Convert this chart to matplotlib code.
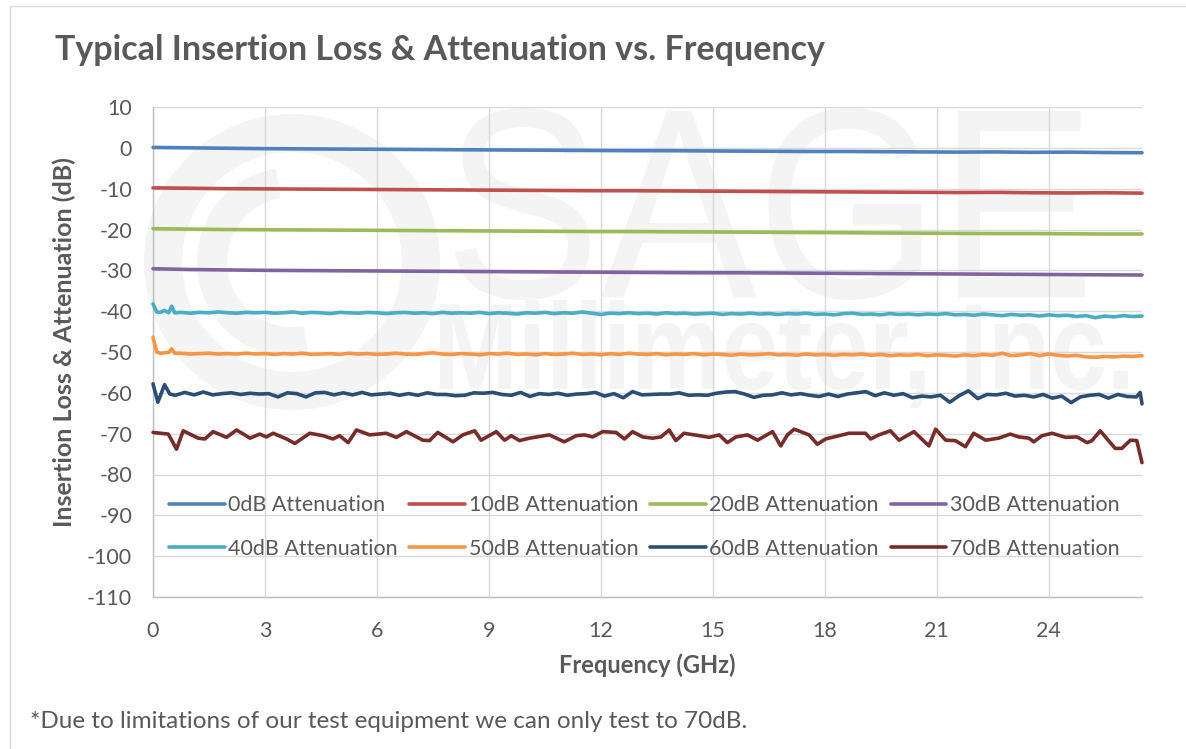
import numpy as np
import matplotlib
matplotlib.use("Agg")
import matplotlib.pyplot as plt
from matplotlib.textpath import TextPath
from matplotlib.patches import PathPatch, Wedge
from matplotlib.font_manager import FontProperties
from matplotlib.transforms import Affine2D, IdentityTransform
from matplotlib.lines import Line2D

plt.rcParams['font.family'] = ['Lato', 'DejaVu Sans']
plt.rcParams['axes.unicode_minus'] = False

# ---------------- data ----------------
title = "Typical Insertion Loss & Attenuation vs. Frequency"
xlabel = "Frequency (GHz)"
ylabel = "Insertion Loss & Attenuation (dB)"
footnote = "*Due to limitations of our test equipment we can only test to 70dB."
x_ticks = [0, 3, 6, 9, 12, 15, 18, 21, 24]
y_ticks = [10, 0, -10, -20, -30, -40, -50, -60, -70, -80, -90, -100, -110]

series_names = ["0dB Attenuation", "10dB Attenuation", "20dB Attenuation", "30dB Attenuation",
                "40dB Attenuation", "50dB Attenuation", "60dB Attenuation", "70dB Attenuation"]
series_colors = ["#4F81BD", "#C0504D", "#9BBB59", "#8064A2",
                 "#4BACC6", "#F79646", "#2C4D75", "#772C2A"]

# smooth series (sampled ~1 GHz from 0 to 26.5 GHz)
att_0 = [0.1, 0.0, -0.1, -0.2, -0.25, -0.3, -0.35, -0.4, -0.45, -0.5,
         -0.55, -0.6, -0.65, -0.7, -0.7, -0.75, -0.8, -0.85, -0.9, -0.9,
         -0.95, -1.0, -1.05, -1.0, -1.1, -1.05, -1.15, -1.2]
att_10 = [-9.8, -9.9, -10.0, -10.05, -10.1, -10.15, -10.2, -10.25, -10.3, -10.35,
          -10.4, -10.45, -10.5, -10.5, -10.55, -10.6, -10.65, -10.7, -10.75, -10.8,
          -10.85, -10.9, -10.95, -10.9, -11.0, -11.05, -11.0, -11.1]
att_20 = [-19.8, -19.9, -20.0, -20.05, -20.1, -20.15, -20.2, -20.25, -20.3, -20.35,
          -20.4, -20.45, -20.5, -20.5, -20.55, -20.6, -20.65, -20.7, -20.75, -20.8,
          -20.85, -20.9, -20.95, -21.0, -21.0, -21.05, -21.1, -21.1]
att_30 = [-29.6, -29.8, -29.9, -30.0, -30.05, -30.1, -30.15, -30.2, -30.25, -30.3,
          -30.35, -30.4, -30.45, -30.5, -30.55, -30.6, -30.6, -30.65, -30.7, -30.75,
          -30.8, -30.85, -30.9, -30.95, -31.0, -31.05, -31.1, -31.15]

# 40 dB / 50 dB: start segment + 0.25 GHz sweep from 0.75 to 26.5 GHz
freq_head_40_50 = [0.0, 0.1, 0.2, 0.3, 0.42, 0.5, 0.58]
att_40_head = [-38.2, -40.2, -40.3, -39.8, -40.4, -38.8, -40.4]
att_50_head = [-46.4, -50.0, -50.3, -50.2, -50.1, -49.2, -50.3]
att_40_tail = [
    -40.3, -40.5, -40.3, -40.4, -40.2, -40.4, -40.5, -40.3, -40.4, -40.3,
    -40.5, -40.4, -40.2, -40.5, -40.3, -40.4, -40.6, -40.3, -40.4, -40.5,
    -40.3, -40.4, -40.6, -40.4, -40.3, -40.5, -40.4, -40.6, -40.3, -40.5,
    -40.4, -40.5, -40.3, -40.6, -40.4, -40.5, -40.7, -40.4, -40.5, -40.3,
    -40.6, -40.4, -40.5, -40.2, -40.5, -40.8, -40.5, -40.6, -40.4, -40.6,
    -40.5, -40.7, -40.4, -40.6, -40.5, -40.7, -40.6, -40.5, -40.8, -40.6,
    -40.7, -40.5, -40.7, -40.6, -40.8, -40.6, -40.7, -40.5, -40.8, -40.7,
    -40.9, -40.6, -40.5, -40.8, -40.7, -40.9, -40.6, -40.8, -40.7, -40.9,
    -40.7, -40.8, -40.6, -40.9, -40.8, -41.0, -40.7, -40.9, -41.1, -40.8,
    -41.0, -40.9, -41.2, -40.9, -41.1, -41.0, -41.3, -41.1, -41.6, -41.2,
    -41.4, -41.1, -41.3, -41.2]
att_50_tail = [
    -50.3, -50.5, -50.4, -50.3, -50.5, -50.4, -50.5, -50.3, -50.5, -50.4,
    -50.6, -50.4, -50.5, -50.3, -50.6, -50.5, -50.4, -50.6, -50.3, -50.5,
    -50.4, -50.6, -50.5, -50.3, -50.5, -50.6, -50.4, -50.2, -50.5, -50.6,
    -50.4, -50.5, -50.7, -50.4, -50.5, -50.3, -50.6, -50.5, -50.7, -50.4,
    -50.6, -50.5, -50.3, -50.6, -50.5, -50.7, -50.4, -50.6, -50.3, -50.5,
    -50.6, -50.4, -50.7, -50.5, -50.6, -50.4, -50.7, -50.5, -50.6, -50.8,
    -50.5, -50.7, -50.6, -50.4, -50.7, -50.6, -50.8, -50.5, -50.7, -50.6,
    -50.8, -50.6, -50.7, -50.5, -50.8, -50.6, -50.9, -50.7, -50.8, -50.6,
    -50.9, -50.7, -50.8, -51.0, -50.7, -50.9, -50.6, -50.8, -50.3, -50.9,
    -50.7, -50.4, -50.9, -50.5, -50.8, -51.0, -50.8, -51.2, -51.3, -51.1,
    -51.2, -51.0, -51.1, -50.9]

# 60 dB: start segment + 0.25 GHz sweep (0.6 .. 26.35 GHz) + end
freq_60_head = [0.0, 0.13, 0.31, 0.45]
att_60_head = [-57.8, -62.3, -58.0, -60.3]
att_60_tail = [
    -60.6, -59.9, -60.5, -59.8, -60.5, -60.2, -60.0, -60.4, -60.1, -60.3,
    -60.2, -61.0, -60.0, -60.2, -61.0, -60.0, -59.9, -60.5, -60.0, -60.5,
    -59.9, -60.5, -60.3, -60.1, -60.6, -60.2, -60.6, -60.0, -60.4, -60.4,
    -60.7, -60.6, -60.0, -60.1, -59.9, -60.4, -60.6, -59.9, -60.9, -60.2,
    -60.4, -60.1, -60.6, -60.3, -60.2, -59.9, -60.8, -60.2, -61.2, -59.7,
    -60.5, -60.4, -60.3, -60.3, -60.0, -60.6, -60.5, -60.6, -60.1, -59.8,
    -59.7, -60.3, -61.1, -60.6, -60.5, -60.0, -60.5, -60.2, -60.6, -60.9,
    -60.3, -60.9, -60.3, -60.0, -59.7, -60.7, -60.0, -60.6, -60.2, -61.2,
    -60.8, -61.0, -60.6, -62.3, -60.7, -59.5, -61.4, -60.4, -60.5, -60.1,
    -60.8, -60.6, -61.0, -60.4, -61.3, -60.8, -62.4, -61.0, -60.6, -60.4,
    -61.3, -60.4, -60.9, -61.0]
freq_60_end = [26.45, 26.5]
att_60_end = [-59.9, -62.7]

# 70 dB: read point by point
freq_70 = [0.00, 0.41, 0.63, 0.81, 1.21, 1.39, 1.61, 1.97, 2.24, 2.60,
           2.86, 3.04, 3.22, 3.58, 3.80, 4.20, 4.56, 4.82, 5.00, 5.23,
           5.45, 5.81, 6.25, 6.52, 6.79, 7.23, 7.41, 7.63, 8.04, 8.30, 8.62,
           8.79, 9.20, 9.42, 9.60, 9.82, 10.09, 10.62, 11.02, 11.34, 11.56,
           11.78, 12.05, 12.41, 12.63, 12.85, 13.12, 13.39, 13.61, 13.83, 14.01,
           14.23, 14.64, 14.90, 15.17, 15.39, 15.62, 15.93, 16.20, 16.60, 16.82,
           17.00, 17.18,
           17.58, 17.80, 18.02, 18.20, 18.65, 19.09, 19.23, 19.45, 19.76, 19.99,
           20.39, 20.79, 20.97, 21.24, 21.50, 21.77, 21.99, 22.31, 22.66, 22.97,
           23.20, 23.47, 23.60, 23.82, 24.09, 24.45, 24.76, 25.03, 25.16, 25.38,
           25.78, 25.96, 26.19, 26.36, 26.50]
att_70 = [-69.7, -70.1, -73.8, -69.3, -71.1, -71.3, -69.5, -70.9, -69.1, -71.1,
          -70.1, -70.8, -69.9, -71.3, -72.4, -69.9, -70.5, -71.3, -70.5, -72.2,
          -69.1, -70.3, -69.9, -70.9, -69.5, -71.6, -71.7, -69.7, -72.0, -70.3, -69.3,
          -71.6, -69.5, -71.6, -70.5, -71.7, -71.1, -70.3, -72.0, -70.5, -70.3,
          -70.8, -69.5, -69.7, -71.3, -69.5, -70.8, -71.1, -70.8, -69.1, -71.7,
          -69.9, -70.5, -70.9, -70.3, -72.2, -70.8, -70.3, -71.6, -69.5, -73.0,
          -70.3, -68.9,
          -70.3, -72.6, -71.3, -70.9, -69.9, -69.9, -71.3, -70.3, -69.3, -71.6,
          -69.5, -73.0, -68.9, -71.6, -71.7, -73.2, -69.9, -71.6, -71.1, -70.1,
          -70.8, -71.1, -72.0, -70.5, -69.9, -70.9, -70.8, -72.2, -71.7, -69.3,
          -73.6, -73.6, -71.6, -71.7, -77.1]

# ---------------- assemble sweeps ----------------
f_smooth = np.linspace(0, 26.5, len(att_0))
f_40_50 = np.concatenate([freq_head_40_50, np.linspace(0.75, 26.5, len(att_40_tail))])
f_60 = np.concatenate([freq_60_head, np.linspace(0.6, 26.35, len(att_60_tail)), freq_60_end])
series_x = [f_smooth, f_smooth, f_smooth, f_smooth, f_40_50, f_40_50, f_60, np.array(freq_70)]
series_y = [att_0, att_10, att_20, att_30,
            att_40_head + att_40_tail, att_50_head + att_50_tail,
            att_60_head + att_60_tail + att_60_end, att_70]

# ---------------- figure ----------------
W, H = 1186, 749
fig = plt.figure(figsize=(W / 100, H / 100), dpi=100)
fig.patch.set_facecolor("white")
TXT = "#595959"

def fx(px):
    return px / W

def fy(py):
    return 1 - py / H

# watermark (very faint)
WM = "#f4f4f4"

def fit_text(s, box, weight="normal"):
    x0, y0, x1, y1 = box
    fp = FontProperties(family="Liberation Sans", weight=weight)
    tp = TextPath((0, 0), s, size=100, prop=fp)
    e = tp.get_extents()
    tr = (Affine2D().translate(-e.x0, -e.y0)
          .scale((x1 - x0) / e.width, (y1 - y0) / e.height)
          .translate(x0, H - y1))
    patch = PathPatch(tr.transform_path(tp), fc=WM, ec="none",
                      transform=IdentityTransform(), zorder=-5)
    fig.add_artist(patch)

fit_text("SAGE", (455, 108, 1085, 300))
fit_text("Millimeter, Inc.", (440, 300, 1128, 408), weight="bold")
ring = Wedge((292, H - 262), 148, 0, 360, width=38, fc=WM, ec="none",
             transform=IdentityTransform(), zorder=-5)
fig.add_artist(ring)
inner = Wedge((292, H - 262), 95, 100, 280, width=30, fc=WM, ec="none",
              transform=IdentityTransform(), zorder=-5)
fig.add_artist(inner)

# outer chart border (left + top)
fig.add_artist(Line2D([fx(10), fx(10), 1], [0, fy(6), fy(6)], color="#d9d9d9",
                      lw=1.0, transform=fig.transFigure))

ax = fig.add_axes([fx(153), fy(597), (1142 - 153) / W, (597 - 107) / H])
ax.set_facecolor("none")

lines = []
for xs, ys, name, col in zip(series_x, series_y, series_names, series_colors):
    ln, = ax.plot(xs, ys, color=col, lw=2.6, label=name,
                  solid_joinstyle="round", solid_capstyle="round", clip_on=False, zorder=3)
    lines.append(ln)

ax.set_xlim(0, 26.5)
ax.set_ylim(-110, 10)
ax.set_xticks(x_ticks)
ax.set_yticks(y_ticks)
ax.grid(True, color="#d9d9d9", lw=1.0)
ax.set_axisbelow(True)
for s in ["top", "right"]:
    ax.spines[s].set_visible(False)
for s in ["left", "bottom"]:
    ax.spines[s].set_color("#bfbfbf")
    ax.spines[s].set_linewidth(1.0)
ax.tick_params(length=0, labelsize=15.5, labelcolor=TXT)
ax.tick_params(axis="y", pad=15)
ax.tick_params(axis="x", pad=17)

# legend: row-wise order
order = [0, 4, 1, 5, 2, 6, 3, 7]
leg = ax.legend([lines[i] for i in order], [series_names[i] for i in order],
                loc="center", bbox_to_anchor=(fx(644), fy(527)), bbox_transform=fig.transFigure,
                ncol=4, frameon=False, handlelength=2.6, handletextpad=0.15,
                columnspacing=0.55, labelspacing=1.1, borderpad=0, fontsize=15.5)
for t in leg.get_texts():
    t.set_color(TXT)

fig.text(fx(55), fy(50), title, fontsize=24.5, weight="bold", color=TXT, ha="left", va="center")
fig.text(fx(647), fy(665), xlabel, fontsize=17, weight="bold", color=TXT, ha="center", va="center")
fig.text(fx(64), fy(342), ylabel, fontsize=18, weight="bold", color=TXT, ha="center", va="center",
         rotation=90)
fig.text(fx(30), fy(722), footnote, fontsize=17.5, color=TXT, ha="left", va="center")

fig.savefig("out.png", dpi=100)
